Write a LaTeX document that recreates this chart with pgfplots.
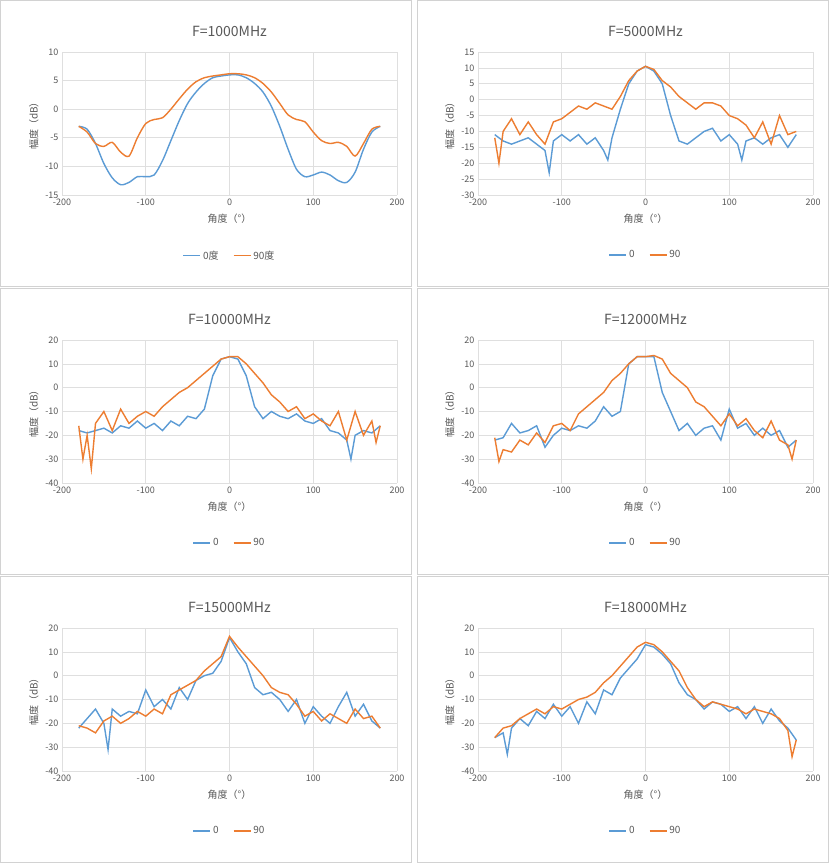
\documentclass[border=0pt]{standalone}
\usepackage{fontspec}
\setmainfont{Noto Sans CJK SC}
\usepackage{pgfplots}
\pgfplotsset{compat=1.18}
\definecolor{cb}{HTML}{5B9BD5}
\definecolor{co}{HTML}{ED7D31}
\definecolor{tx}{HTML}{595959}
\pgfplotsset{panel/.style={scale only axis,width=335pt,height=143pt,
 xmin=-200,xmax=200,xtick={-200,-100,0,100,200},
 xmajorgrids,ymajorgrids,grid style={gray!25,line width=0.6pt},
 axis line style={draw=none},tick style={draw=none},
 tick label style={font=\fontsize{9}{10}\selectfont,text=tx},
 /pgf/number format/assume math mode=true,
 xlabel={角度（°）},ylabel={幅度（dB）},
 label style={font=\fontsize{10}{12}\selectfont,text=tx},
 xlabel style={yshift=-2pt},
 title style={font=\fontsize{14}{16}\selectfont,text=tx,yshift=6pt},
 legend columns=2,legend style={draw=none,at={(0.5,-0.36)},anchor=north,font=\fontsize{10}{12}\selectfont,text=tx,/tikz/every even column/.append style={column sep=12pt}},
 legend image post style={line width=1.6pt},
 every axis plot/.append style={line width=1.4pt,no marks}}}
\begin{document}
\begin{tikzpicture}
\fill[white](0pt,0pt) rectangle (829pt,863pt);
\foreach \x in {0,417}{\foreach \y in {576,288,0}{\draw[gray!35,line width=0.7pt](\x pt+0.5pt,\y pt+0.5pt) rectangle (\x pt+411.5pt,\y pt+286.5pt);}}
% panel 1
\begin{axis}[panel,at={(62pt,668pt)},anchor=south west,ymin=-15,ymax=10,ytick={-15,-10,...,10},title={F=1000MHz}]
\addplot[cb,smooth] coordinates {(-180,-3)(-170,-3.5)(-160,-6)(-150,-9.5)(-140,-12)(-130,-13.2)(-120,-12.8)(-110,-11.8)(-100,-11.8)(-90,-11.5)(-80,-9)(-70,-5.5)(-60,-2)(-50,1)(-40,3)(-30,4.5)(-20,5.5)(-10,5.8)(0,6)(10,6)(20,5.5)(30,4.5)(40,3)(50,0.5)(60,-3)(70,-7)(80,-10.5)(90,-11.8)(100,-11.5)(110,-11)(120,-11.5)(130,-12.5)(140,-12.8)(150,-11)(160,-7)(170,-4)(180,-3)};
\addplot[co,smooth] coordinates {(-180,-3)(-170,-4)(-160,-6)(-150,-6.5)(-140,-5.8)(-130,-7.5)(-120,-8.2)(-110,-5)(-100,-2.5)(-90,-1.8)(-80,-1.5)(-70,0)(-60,1.8)(-50,3.5)(-40,4.8)(-30,5.5)(-20,5.8)(-10,6)(0,6.2)(10,6.2)(20,6)(30,5.5)(40,4.5)(50,3)(60,1)(70,-1)(80,-1.8)(90,-2.2)(100,-4)(110,-5.5)(120,-6)(130,-5.8)(140,-6.5)(150,-8.2)(160,-6)(170,-3.5)(180,-3)};
\legend{0度,90度}
\end{axis}
% panel 2
\begin{axis}[panel,at={(478pt,668pt)},anchor=south west,ymin=-30,ymax=15,ytick={-30,-25,...,15},title={F=5000MHz}]
\addplot[cb] coordinates {(-180,-11)(-170,-13)(-160,-14)(-150,-13)(-140,-12)(-130,-14)(-120,-16)(-115,-23)(-110,-13)(-100,-11)(-90,-13)(-80,-11)(-70,-14)(-60,-12)(-50,-16)(-45,-19)(-40,-12)(-30,-3)(-20,5)(-10,9)(0,10.5)(10,9)(20,5)(30,-5)(40,-13)(50,-14)(60,-12)(70,-10)(80,-9)(90,-13)(100,-11)(110,-14)(115,-19)(120,-13)(130,-12)(140,-14)(150,-12)(160,-11)(170,-15)(180,-11)};
\addplot[co] coordinates {(-180,-12)(-175,-20)(-170,-10)(-160,-6)(-150,-11)(-140,-7)(-130,-11)(-120,-14)(-110,-7)(-100,-6)(-90,-4)(-80,-2)(-70,-3)(-60,-1)(-50,-2)(-40,-3)(-30,1)(-20,6)(-10,9)(0,10.5)(10,9.5)(20,6)(30,4)(40,1)(50,-1)(60,-3)(70,-1)(80,-1)(90,-2)(100,-5)(110,-6)(120,-8)(130,-12)(140,-7)(150,-14)(160,-5)(170,-11)(180,-10)};
\legend{0,90}
\end{axis}
% panel 3
\begin{axis}[panel,at={(62pt,380pt)},anchor=south west,ymin=-40,ymax=20,ytick={-40,-30,...,20},title={F=10000MHz}]
\addplot[cb] coordinates {(-180,-18)(-170,-19)(-160,-18)(-150,-17)(-140,-19)(-130,-16)(-120,-17)(-110,-14)(-100,-17)(-90,-15)(-80,-18)(-70,-14)(-60,-16)(-50,-12)(-40,-13)(-30,-9)(-20,5)(-10,12)(0,13)(10,12)(20,5)(30,-8)(40,-13)(50,-10)(60,-12)(70,-13)(80,-11)(90,-14)(100,-15)(110,-13)(120,-18)(130,-19)(140,-22)(145,-30)(150,-20)(160,-18)(170,-19)(180,-16)};
\addplot[co] coordinates {(-180,-16)(-175,-30)(-170,-20)(-165,-34)(-160,-15)(-150,-10)(-140,-18)(-130,-9)(-120,-15)(-110,-12)(-100,-10)(-90,-12)(-80,-8)(-70,-5)(-60,-2)(-50,0)(-40,3)(-30,6)(-20,9)(-10,12)(0,13)(10,13)(20,10)(30,6)(40,2)(50,-3)(60,-6)(70,-10)(80,-8)(90,-13)(100,-11)(110,-14)(120,-16)(130,-10)(140,-22)(150,-10)(160,-20)(170,-14)(175,-23)(180,-16)};
\legend{0,90}
\end{axis}
% panel 4
\begin{axis}[panel,at={(478pt,380pt)},anchor=south west,ymin=-40,ymax=20,ytick={-40,-30,...,20},title={F=12000MHz}]
\addplot[cb] coordinates {(-180,-22)(-170,-21)(-160,-15)(-150,-19)(-140,-18)(-130,-16)(-120,-25)(-110,-20)(-100,-17)(-90,-18)(-80,-16)(-70,-17)(-60,-14)(-50,-8)(-40,-12)(-30,-10)(-20,10)(-10,13)(0,13)(10,13)(20,-2)(30,-10)(40,-18)(50,-15)(60,-20)(70,-17)(80,-16)(90,-22)(100,-9)(110,-17)(120,-15)(130,-20)(140,-17)(150,-20)(160,-18)(170,-25)(180,-22)};
\addplot[co] coordinates {(-180,-21)(-175,-31)(-170,-26)(-160,-27)(-150,-22)(-140,-24)(-130,-19)(-120,-23)(-110,-16)(-100,-15)(-90,-18)(-80,-11)(-70,-8)(-60,-5)(-50,-2)(-40,3)(-30,6)(-20,10)(-10,13)(0,13)(10,13.5)(20,12)(30,6)(40,3)(50,0)(60,-6)(70,-8)(80,-12)(90,-16)(100,-11)(110,-16)(120,-13)(130,-18)(140,-21)(150,-14)(160,-22)(170,-24)(175,-30)(180,-22)};
\legend{0,90}
\end{axis}
% panel 5
\begin{axis}[panel,at={(62pt,92pt)},anchor=south west,ymin=-40,ymax=20,ytick={-40,-30,...,20},title={F=15000MHz}]
\addplot[cb] coordinates {(-180,-22)(-170,-18)(-160,-14)(-150,-20)(-145,-31)(-140,-14)(-130,-17)(-120,-15)(-110,-16)(-100,-6)(-90,-13)(-80,-10)(-70,-14)(-60,-5)(-50,-10)(-40,-2)(-30,0)(-20,1)(-10,6)(0,16)(10,10)(20,5)(30,-5)(40,-8)(50,-7)(60,-10)(70,-15)(80,-10)(90,-20)(100,-13)(110,-17)(120,-20)(130,-13)(140,-7)(150,-17)(160,-12)(170,-19)(180,-22)};
\addplot[co] coordinates {(-180,-21)(-170,-22)(-160,-24)(-150,-19)(-140,-17)(-130,-20)(-120,-18)(-110,-15)(-100,-17)(-90,-14)(-80,-16)(-70,-8)(-60,-6)(-50,-4)(-40,-2)(-30,2)(-20,5)(-10,8)(0,16.5)(10,12)(20,8)(30,4)(40,0)(50,-5)(60,-7)(70,-8)(80,-12)(90,-17)(100,-15)(110,-19)(120,-16)(130,-18)(140,-20)(150,-14)(160,-18)(170,-17)(180,-22)};
\legend{0,90}
\end{axis}
% panel 6
\begin{axis}[panel,at={(478pt,92pt)},anchor=south west,ymin=-40,ymax=20,ytick={-40,-30,...,20},title={F=18000MHz}]
\addplot[cb] coordinates {(-180,-26)(-170,-24)(-165,-33)(-160,-22)(-150,-18)(-140,-21)(-130,-15)(-120,-18)(-110,-12)(-100,-17)(-90,-13)(-80,-20)(-70,-11)(-60,-16)(-50,-6)(-40,-8)(-30,-1)(-20,3)(-10,7)(0,13)(10,12)(20,9)(30,5)(40,-3)(50,-8)(60,-10)(70,-14)(80,-11)(90,-12)(100,-15)(110,-13)(120,-18)(130,-13)(140,-20)(150,-14)(160,-19)(170,-22)(180,-27)};
\addplot[co] coordinates {(-180,-26)(-170,-22)(-160,-21)(-150,-18)(-140,-16)(-130,-14)(-120,-16)(-110,-13)(-100,-14)(-90,-12)(-80,-10)(-70,-9)(-60,-7)(-50,-3)(-40,0)(-30,4)(-20,8)(-10,12)(0,14)(10,13)(20,10)(30,6)(40,2)(50,-5)(60,-10)(70,-13)(80,-11)(90,-12)(100,-13)(110,-14)(120,-16)(130,-14)(140,-15)(150,-16)(160,-18)(170,-23)(175,-34)(180,-27)};
\legend{0,90}
\end{axis}
\end{tikzpicture}
\end{document}
